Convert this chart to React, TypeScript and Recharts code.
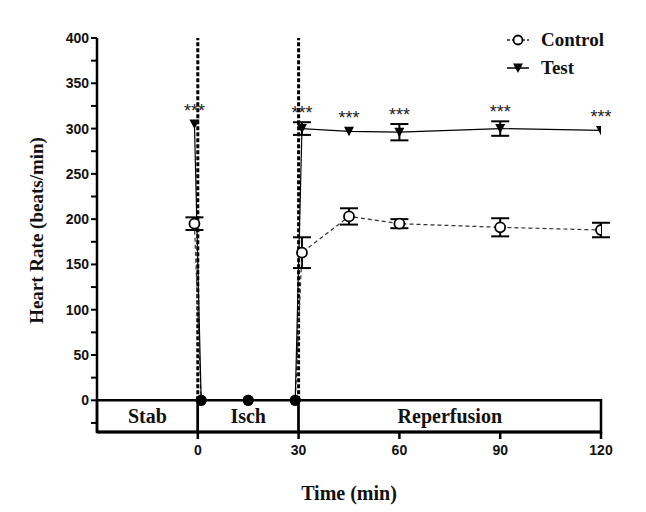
import React from 'react';
import {
  ComposedChart, Line, XAxis, YAxis, ErrorBar, ReferenceArea, ReferenceLine, Legend, LabelList, Label,
} from 'recharts';

const times = [-1, 1, 15, 29, 31, 45, 60, 90, 120];
const controlValues = [195, 0, 0, 0, 163, 203, 195, 191, 188];
const controlErrors = [7, 0, 0, 0, 17, 9, 5, 10, 8];
const testValues = [305, 0, 0, 0, 300, 297, 296, 300, 298];
const testErrors = [0, 0, 0, 0, 7, 0, 9, 8, 0];
const significance = ['***', '', '', '', '***', '***', '***', '***', '***'];

const xTicks = [0, 30, 60, 90, 120];
const yTicks = [-25, 0, 25, 50, 75, 100, 125, 150, 175, 200, 225, 250, 275, 300, 325, 350, 375, 400];
const xDomain = [-30, 120];
const yDomain = [-35, 400];

const phaseNames = ['Stab', 'Isch', 'Reperfusion'];
const phaseStarts = [-30, 0, 30];
const phaseEnds = [0, 30, 120];

const data = times.map((t, i) => ({
  t,
  control: controlValues[i],
  controlErr: controlErrors[i],
  test: testValues[i],
  testErr: testErrors[i],
  sig: significance[i],
}));

const W = 646;
const H = 512;
const M = { top: 38, right: 45, bottom: 10, left: 0 };
const Y_AXIS_W = 97;
const X_AXIS_H = 70;
const plotH = H - M.top - M.bottom - X_AXIS_H;
const pxPerUnit = plotH / (yDomain[1] - yDomain[0]);

const SERIF = '"Liberation Serif", "Times New Roman", serif';
const SANS = '"Liberation Sans", Arial, sans-serif';

const ControlDot = (p: any) => {
  const { cx, cy, index, payload } = p;
  if (cx == null || cy == null) return <g key={`cd${index}`} />;
  if (payload && payload.control === 0) {
    return <circle key={`cd${index}`} cx={cx} cy={cy} r={5.5} fill="#000" />;
  }
  return <circle key={`cd${index}`} cx={cx} cy={cy} r={5} fill="#fff" stroke="#000" strokeWidth={1.8} />;
};

const TestDot = (p: any) => {
  const { cx, cy, index, payload } = p;
  if (cx == null || cy == null) return <g key={`td${index}`} />;
  if (payload && payload.test === 0) {
    return <circle key={`td${index}`} cx={cx} cy={cy} r={5.5} fill="#000" />;
  }
  return (
    <polygon
      key={`td${index}`}
      points={`${cx - 5},${cy - 4.5} ${cx + 5},${cy - 4.5} ${cx},${cy + 5}`}
      fill="#000"
    />
  );
};

const StarLabel = (p: any) => {
  const { x, y, index, value } = p;
  if (!value || x == null || y == null) return null;
  const err = testErrors[index] || 0;
  const ty = y - Math.max(err * pxPerUnit, 4) - 3;
  return (
    <text x={x} y={ty} textAnchor="middle" fontFamily={SANS} fontSize={18} fill="#222">
      {value}
    </text>
  );
};

const YTick = (p: any) => {
  const { x, y, payload } = p;
  const v = payload.value;
  if (!(v >= 0 && v % 50 === 0)) return <g />;
  return (
    <text x={x} y={y} dy={5} textAnchor="end" fontFamily={SANS} fontWeight="bold" fontSize={14} fill="#111">
      {v}
    </text>
  );
};

const XTick = (p: any) => {
  const { x, y, payload } = p;
  return (
    <text x={x} y={y} dy={12} textAnchor="middle" fontFamily={SANS} fontWeight="bold" fontSize={14} fill="#111">
      {payload.value}
    </text>
  );
};

const LegendContent = () => (
  <div style={{ fontFamily: SERIF, fontWeight: 'bold', fontSize: 19, color: '#111', lineHeight: '28px' }}>
    <div style={{ display: 'flex', alignItems: 'center' }}>
      <svg width={24} height={14} style={{ marginRight: 11 }}>
        <line x1={1} y1={7} x2={23} y2={7} stroke="#222" strokeWidth={1.3} strokeDasharray="3 2" />
        <circle cx={12} cy={7} r={4.5} fill="#fff" stroke="#000" strokeWidth={1.8} />
      </svg>
      <span>Control</span>
    </div>
    <div style={{ display: 'flex', alignItems: 'center' }}>
      <svg width={24} height={14} style={{ marginRight: 11 }}>
        <line x1={1} y1={7} x2={23} y2={7} stroke="#000" strokeWidth={1.5} />
        <polygon points="7,2.5 17,2.5 12,12" fill="#000" />
      </svg>
      <span>Test</span>
    </div>
  </div>
);

const YTitle = (p: any) => {
  const vb = p.viewBox || {};
  const cx = (vb.x || 0) + 37;
  const cy = M.top + (yDomain[1] + 25) * pxPerUnit / 2;
  return (
    <text
      x={cx}
      y={cy}
      transform={`rotate(-90, ${cx}, ${cy})`}
      textAnchor="middle"
      dominantBaseline="central"
      fontFamily={SERIF}
      fontWeight="bold"
      fontSize={19}
      fill="#111"
    >
      Heart Rate (beats/min)
    </text>
  );
};

export default function App() {
  return (
    <div style={{ position: 'absolute', left: 0, top: 0, background: '#fff' }}>
      <ComposedChart width={W} height={H} data={data} margin={M}>
        <XAxis
          dataKey="t"
          type="number"
          domain={xDomain}
          ticks={xTicks}
          allowDataOverflow
          height={X_AXIS_H}
          axisLine={{ stroke: '#000', strokeWidth: 3 }}
          tickLine={{ stroke: '#000', strokeWidth: 2.5 }}
          tickSize={7}
          tickMargin={4}
          tick={<XTick />}
        >
          <Label
            value="Time (min)"
            position="insideBottom"
            offset={2}
            style={{ fontFamily: SERIF, fontWeight: 'bold', fontSize: 20, fill: '#111' }}
          />
        </XAxis>
        <YAxis
          type="number"
          domain={yDomain}
          ticks={yTicks}
          allowDataOverflow
          width={Y_AXIS_W}
          axisLine={{ stroke: '#000', strokeWidth: 2.5 }}
          tickLine={{ stroke: '#000', strokeWidth: 2 }}
          tickSize={6}
          tickMargin={2}
          interval={0}
          tick={<YTick />}
        >
          <Label content={<YTitle />} />
        </YAxis>
        <Legend
          layout="vertical"
          align="center"
          verticalAlign="middle"
          content={<LegendContent />}
          wrapperStyle={{ position: 'absolute', left: 506, top: 26, width: 130, height: 60 }}
        />

        {phaseNames.map((name, i) => (
          <ReferenceArea
            key={name}
            x1={phaseStarts[i]}
            x2={phaseEnds[i]}
            y1={yDomain[0]}
            y2={0}
            fill="#fff"
            fillOpacity={1}
            stroke="#000"
            strokeWidth={2.5}
            ifOverflow="visible"
          >
            <Label
              value={name}
              position="center"
              style={{ fontFamily: SERIF, fontWeight: 'bold', fontSize: 20, fill: '#111' }}
            />
          </ReferenceArea>
        ))}

        <ReferenceLine
          segment={[{ x: 0, y: 0 }, { x: 0, y: 400 }]}
          stroke="#000"
          strokeWidth={3}
          strokeDasharray="4 2"
          ifOverflow="visible"
        />
        <ReferenceLine
          segment={[{ x: 30, y: 0 }, { x: 30, y: 400 }]}
          stroke="#000"
          strokeWidth={3}
          strokeDasharray="4 2"
          ifOverflow="visible"
        />

        <Line
          dataKey="control"
          stroke="#333"
          strokeWidth={1.2}
          strokeDasharray="4 3"
          dot={ControlDot}
          activeDot={false}
          isAnimationActive={false}
          legendType="none"
        >
          <ErrorBar dataKey="controlErr" width={9} stroke="#000" strokeWidth={2} direction="y" />
        </Line>
        <Line
          dataKey="test"
          stroke="#000"
          strokeWidth={1.2}
          dot={TestDot}
          activeDot={false}
          isAnimationActive={false}
          legendType="none"
        >
          <ErrorBar dataKey="testErr" width={9} stroke="#000" strokeWidth={2} direction="y" />
          <LabelList dataKey="sig" content={<StarLabel />} />
        </Line>
      </ComposedChart>
    </div>
  );
}
